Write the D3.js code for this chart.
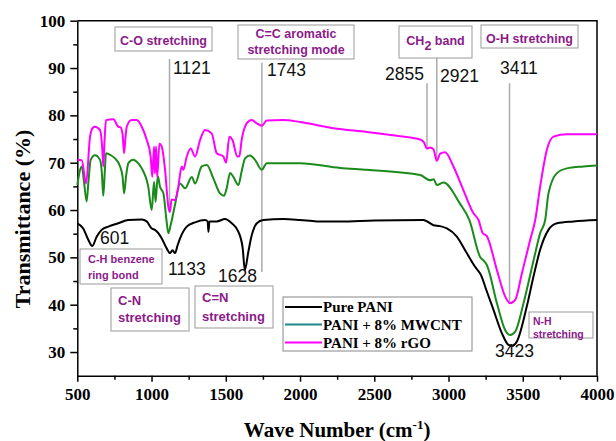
<!DOCTYPE html>
<meta charset="utf-8">
<style>
body { margin: 0; background: #fff; }
.axis path, .axis line { stroke: #000; stroke-width: 1.5px; }
.axis text { font-family: "Liberation Serif", "Times New Roman", serif; font-weight: bold; font-size: 17px; fill: #000; }
.title { font-family: "Liberation Serif", "Times New Roman", serif; font-weight: bold; fill: #000; }
.peak { font-family: "Liberation Sans", Arial, sans-serif; font-size: 17.5px; fill: #111; }
.note { font-family: "Liberation Sans", Arial, sans-serif; font-weight: bold; fill: #8b1a8b; }
.box { fill: #fff; stroke: #999; stroke-width: 1px; }
.marker { stroke: #aaa; stroke-width: 1.5px; }
.curve { fill: none; stroke-width: 2px; stroke-linejoin: round; }
.legend text { font-family: "Liberation Serif", "Times New Roman", serif; font-weight: bold; font-size: 15px; fill: #000; }
</style>
<svg width="616" height="441"></svg>
<script src="https://d3js.org/d3.v7.min.js"></script>
<script>
// FTIR spectra, wavenumber (cm-1) vs transmittance (%)
var paniWn = [500,540,570,601,631,664,709,776,844,934,967,1001,1023,1069,1102,1124,1141,1158,1175,1192,1237,1293,1360,1378,1383,1390,1439,1495,1540,1585,1614,1628,1652,1675,1709,1753,1888,2000,2113,2270,2500,2831,2899,2944,2989,3056,3123,3179,3224,3247,3303,3359,3404,3426,3460,3527,3572,3617,3673,3730,3842,4000];
var paniT  = [57.2,56.1,54.0,52.4,54.4,55.8,56.5,57.2,57.9,58.0,57.6,56.1,55.8,54.0,51.9,50.9,51.5,50.9,52.5,54.0,56.5,57.4,57.9,57.6,55.4,57.6,57.6,58.1,57.2,55.4,51.9,47.3,51.2,54.7,57.2,57.9,58.1,57.9,57.6,57.6,57.8,57.9,56.8,56.6,56.1,54.4,50.9,48.0,45.9,43.8,38.9,34.0,31.5,31.3,32.2,39.6,45.9,51.6,55.8,57.2,57.6,57.9];

var cntWn = [500,530,545,563,575,590,619,653,665,675,685,693,725,754,788,805,815,828,844,877,900,934,978,1001,1017,1027,1042,1057,1080,1100,1113,1130,1158,1192,1226,1271,1293,1338,1372,1416,1461,1488,1506,1529,1551,1585,1607,1630,1663,1697,1742,1776,2000,2270,2450,2809,2876,2900,2921,2966,3076,3140,3213,3240,3258,3326,3382,3415,3449,3505,3573,3617,3651,3673,3730,3797,3909,4000];
var cntT  = [65.3,69.2,66.0,61.8,66.0,70.6,71.6,70.6,68.0,63.0,68.0,72.0,71.6,70.9,69.2,67.0,63.5,67.0,69.9,70.6,70.2,68.8,64.9,60.0,66.0,61.7,67.2,64.9,63.5,58.0,55.1,57.0,61.1,65.6,64.6,67.0,65.6,69.2,69.5,66.7,63.5,63.0,64.6,67.8,67.0,65.3,68.2,70.9,71.5,70.6,68.5,69.9,69.9,68.9,68.5,67.4,66.3,66.5,65.3,65.8,61.4,57.9,50.1,49.2,48.4,40.3,34.6,33.6,34.3,40.3,49.4,55.1,57.9,63.5,67.8,68.8,69.2,69.4];

var rgoWn = [500,530,559,586,605,619,653,668,675,684,693,743,776,790,805,815,825,833,866,900,934,968,994,1005,1017,1023,1030,1038,1053,1069,1091,1113,1124,1135,1158,1180,1203,1214,1237,1264,1293,1327,1360,1405,1439,1484,1502,1524,1545,1578,1591,1607,1641,1675,1709,1742,1776,1888,2000,2225,2450,2674,2809,2835,2854,2876,2899,2921,2944,2977,3033,3100,3168,3202,3231,3258,3326,3382,3415,3449,3494,3550,3584,3617,3662,3707,3797,4000];
var rgoT  = [70.6,70.5,65.6,75.5,77.4,77.6,76.9,73.0,69.2,75.0,79.0,79.2,77.6,77.5,76.0,72.0,75.5,77.6,79.0,79.0,77.6,74.8,71.3,67.0,73.4,67.7,73.4,67.0,74.0,73.4,68.5,60.7,59.6,62.2,62.1,64.9,69.2,68.5,71.3,73.0,71.3,74.8,76.9,76.2,72.0,71.3,70.0,75.5,74.8,71.3,71.3,74.8,78.3,79.0,78.3,77.8,78.9,79.0,78.6,77.3,76.5,75.6,74.9,74.3,73.0,73.2,72.8,70.4,71.9,72.2,69.2,64.2,59.3,57.9,55.1,54.5,47.3,41.7,40.3,41.0,46.6,53.7,57.9,64.9,72.7,75.5,76.0,76.0];

var seriesNames = ["Pure PANI", "PANI + 8% MWCNT", "PANI + 8% rGO"];
var seriesColors = ["#000000", "#1a8a1a", "#ff00ff"];
var legendColors = ["#000000", "#1a8a8a", "#ff00ff"];

var xTicks = [500,1000,1500,2000,2500,3000,3500,4000];
var yTicks = [30,40,50,60,70,80,90,100];

// peak markers: wavenumber, top and bottom of the gray line (in %T)
var markerWn  = [1121, 1743, 2855, 2921, 3411];
var markerTop = [91.9, 91.1, 86.8, 92.1, 86.8];
var markerBot = [60.0, 46.9, 73.3, 70.6, 40.4];

var svg = d3.select("svg"),
    margin = {top: 20.7, right: 19, bottom: 65.3, left: 77.3},
    width = +svg.attr("width") - margin.left - margin.right,
    height = +svg.attr("height") - margin.top - margin.bottom;

var x = d3.scaleLinear().domain([500, 4000]).range([0, width]),
    y = d3.scaleLinear().domain([25, 100]).range([height, 0]);

var g = svg.append("g")
    .attr("transform", "translate(" + margin.left + "," + margin.top + ")");

// minor ticks
g.append("g")
    .attr("class", "axis")
    .attr("transform", "translate(0," + height + ")")
    .call(d3.axisBottom(x).tickValues(d3.range(750, 4000, 500)).tickSize(4).tickFormat(""))
    .select(".domain").remove();
g.append("g")
    .attr("class", "axis")
    .call(d3.axisLeft(y).tickValues(d3.range(35, 100, 10)).tickSize(4).tickFormat(""))
    .select(".domain").remove();

g.append("g")
    .attr("class", "axis")
    .attr("transform", "translate(0," + height + ")")
    .call(d3.axisBottom(x).tickValues(xTicks).tickSize(6).tickSizeOuter(0).tickPadding(6).tickFormat(d3.format("d")));
g.append("g")
    .attr("class", "axis")
    .call(d3.axisLeft(y).tickValues(yTicks).tickSize(7).tickSizeOuter(0).tickPadding(5).tickFormat(d3.format("d")));

// frame top and right
g.append("path")
    .attr("d", "M0," + y(100) + "H" + width + "V" + height)
    .attr("fill", "none").attr("stroke", "#000").attr("stroke-width", 1.5);

// peak marker lines
g.selectAll(".marker")
  .data(markerWn)
  .enter().append("line")
    .attr("class", "marker")
    .attr("x1", function(d) { return x(d); })
    .attr("x2", function(d) { return x(d); })
    .attr("y1", function(d, i) { return y(markerTop[i]); })
    .attr("y2", function(d, i) { return y(markerBot[i]); });

var line = d3.line()
    .x(function(d) { return x(d[0]); })
    .y(function(d) { return y(d[1]); })
    .curve(d3.curveMonotoneX);

var series = [d3.zip(paniWn, paniT), d3.zip(cntWn, cntT), d3.zip(rgoWn, rgoT)];
g.selectAll(".curve")
  .data(series)
  .enter().append("path")
    .attr("class", "curve")
    .attr("stroke", function(d, i) { return seriesColors[i]; })
    .attr("d", line);

// peak numbers (page pixels)
var peakLabels = [
  ["1121", 173, 74], ["1743", 267, 76], ["2855", 385, 80], ["2921", 440, 82],
  ["3411", 500, 74], ["601", 100, 244], ["1133", 168, 275], ["1628", 218, 282],
  ["3423", 495, 357]
];
svg.selectAll(".peak")
  .data(peakLabels)
  .enter().append("text")
    .attr("class", "peak")
    .attr("x", function(d) { return d[1]; })
    .attr("y", function(d) { return d[2]; })
    .text(function(d) { return d[0]; });

// assignment boxes: x, y, w, h, font size, weight, lines [text, baseline]
var notes = [
  {x: 115, y: 27, w: 97, h: 24, fs: 12.5, fw: "bold", lines: [["C-O stretching", 44.5]]},
  {x: 238, y: 25, w: 116, h: 34, fs: 12.5, fw: "bold", lines: [["C=C aromatic", 38], ["stretching mode", 54]]},
  {x: 481, y: 25, w: 97, h: 23, fs: 12.5, fw: "bold", lines: [["O-H stretching", 42.5]]},
  {x: 80, y: 249, w: 82, h: 35, fs: 11, fw: "bold", lines: [["C-H benzene", 263], ["ring bond", 279]], left: 88},
  {x: 111, y: 288, w: 78, h: 43, fs: 13, fw: "bold", lines: [["C-N", 305], ["stretching", 322]], left: 118},
  {x: 195, y: 286, w: 78, h: 42, fs: 13, fw: "bold", lines: [["C=N", 302], ["stretching", 321]], left: 202},
  {x: 529, y: 312, w: 64, h: 26, fs: 10.5, fw: "bold", lines: [["N-H", 325], ["stretching", 337.5]], left: 533}
];
notes.forEach(function(n) {
  svg.append("rect").attr("class", "box")
      .attr("x", n.x).attr("y", n.y).attr("width", n.w).attr("height", n.h);
  n.lines.forEach(function(l) {
    svg.append("text").attr("class", "note")
        .attr("x", n.left ? n.left : n.x + n.w / 2)
        .attr("y", l[1])
        .attr("text-anchor", n.left ? "start" : "middle")
        .style("font-size", n.fs + "px")
        .style("font-weight", n.fw)
        .text(l[0]);
  });
});

// CH2 band box with subscript
svg.append("rect").attr("class", "box")
    .attr("x", 399).attr("y", 26).attr("width", 73).attr("height", 32);
var ch2 = svg.append("text").attr("class", "note")
    .attr("x", 435.5).attr("y", 45)
    .attr("text-anchor", "middle")
    .style("font-size", "12.5px");
ch2.append("tspan").text("CH");
ch2.append("tspan").attr("dy", 5).text("2");
ch2.append("tspan").attr("dy", -5).text(" band");

// legend
var legend = svg.append("g").attr("class", "legend");
legend.append("rect")
    .attr("x", 283).attr("y", 297).attr("width", 189).attr("height", 54)
    .attr("fill", "#fff").attr("stroke", "#888").attr("stroke-width", 1);
var rows = legend.selectAll(".row")
  .data(seriesNames)
  .enter().append("g")
    .attr("transform", function(d, i) { return "translate(285," + [307, 324.5, 342.5][i] + ")"; });
rows.append("line")
    .attr("x1", 0).attr("x2", 37)
    .attr("stroke", function(d, i) { return legendColors[i]; })
    .attr("stroke-width", 2);
rows.append("text")
    .attr("x", 38).attr("y", 5)
    .text(function(d) { return d; });

// axis titles
svg.append("text").attr("class", "title")
    .attr("transform", "translate(30,219) rotate(-90)")
    .attr("text-anchor", "middle")
    .style("font-size", "22px")
    .text("Transmittance (%)");
var xt = svg.append("text").attr("class", "title")
    .attr("x", margin.left + width / 2).attr("y", 437)
    .attr("text-anchor", "middle")
    .style("font-size", "21px");
xt.append("tspan").text("Wave Number (cm");
xt.append("tspan").attr("dy", -8).style("font-size", "13px").text("-1");
xt.append("tspan").attr("dy", 8).text(")");
</script>
